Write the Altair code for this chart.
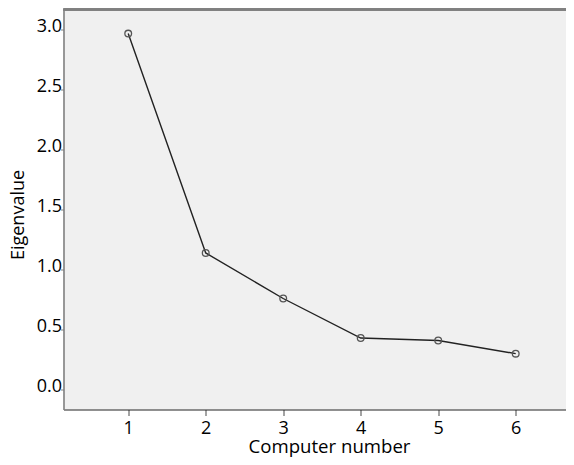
import altair as alt
import pandas as pd

components = [1, 2, 3, 4, 5, 6]
eigenvalues = [2.97, 1.14, 0.76, 0.43, 0.41, 0.30]
y_ticks = [0.0, 0.5, 1.0, 1.5, 2.0, 2.5, 3.0]
x_ticks = [1, 2, 3, 4, 5, 6]

df = pd.DataFrame({"component": components, "eigenvalue": eigenvalues})

FONT = "Open Sans"
W, H = 502.5, 400

x_enc = alt.X(
    "component:Q",
    scale=alt.Scale(domain=[0.165, 6.649], nice=False, zero=False),
    axis=alt.Axis(
        title="Computer number", values=x_ticks, format="d", grid=False,
        domainColor="#222222", domainWidth=1.2, tickColor="#666666",
        tickSize=6, tickWidth=1.2, labelPadding=4, labelFontSize=18,
        labelFont=FONT, labelColor="#000000", titleFont=FONT, titleFontSize=18.6,
        titleFontWeight="normal", titleColor="#000000",
        titleX=265.5, titleY=43, titleBaseline="alphabetic", titleAlign="center",
    ),
)
y_enc = alt.Y(
    "eigenvalue:Q",
    scale=alt.Scale(domain=[-0.166, 3.171], nice=False, zero=False),
    axis=alt.Axis(
        title="Eigenvalue", values=y_ticks, format=".1f", grid=False,
        domainColor="#808080", domainWidth=1.6, tickColor="#808080",
        tickSize=3, tickWidth=1, labelPadding=-1, labelOffset=-3,
        labelFontSize=18, labelFont=FONT, labelColor="#000000",
        titleFont=FONT, titleFontSize=18, titleFontWeight="normal",
        titleColor="#000000", titleX=-36, titleY=205, titleAngle=270,
        titleBaseline="bottom", titleAlign="center",
    ),
)

top_border = alt.Chart(df).mark_rule(color="#808080", strokeWidth=1.8).encode(
    y=alt.value(0), x=alt.value(0), x2=alt.value(W)
)
line = alt.Chart(df).mark_line(color="#222222", strokeWidth=1.4).encode(x=x_enc, y=y_enc)
pts = alt.Chart(df).mark_point(
    shape="circle", size=45, filled=False, color="#555555", strokeWidth=1.3, opacity=1
).encode(x="component:Q", y="eigenvalue:Q")

chart = (
    alt.layer(line, pts, top_border)
    .properties(
        width=W, height=H,
        autosize=alt.AutoSizeParams(type="none"),
        padding={"left": 55.5, "top": 1.5, "right": 0, "bottom": 47.5},
        background="#ffffff",
    )
    .configure_view(fill="#f0f0f0", stroke=None)
)

chart.save("out.html", embed_options={"renderer": "svg", "actions": False})
